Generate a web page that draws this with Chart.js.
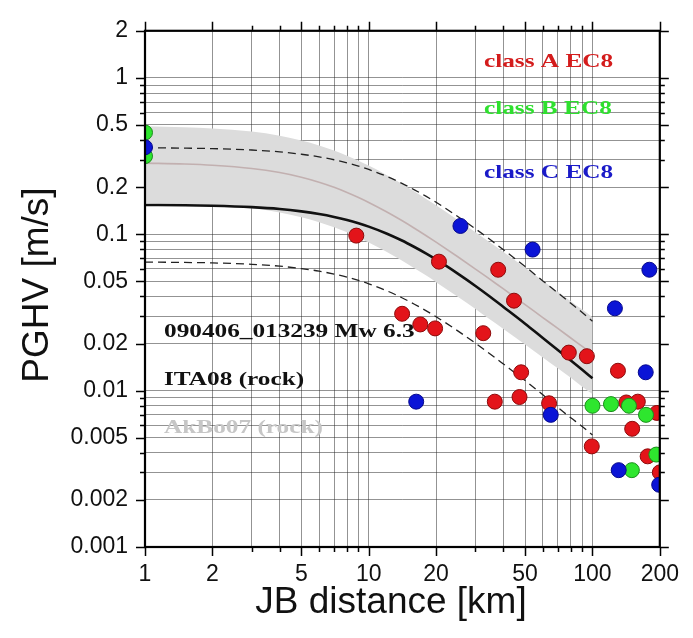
<!DOCTYPE html>
<html>
<head>
<meta charset="utf-8">
<script src="https://cdn.jsdelivr.net/npm/chart.js@4.4.1/dist/chart.umd.min.js"></script>
<style>
  html, body { margin: 0; padding: 0; background: #fff; }
  canvas { display: block; }
</style>
</head>
<body>
<canvas id="pghv-chart" width="693" height="638"></canvas>
<script>
// axis ticks
const xTickLabels = [1, 2, 5, 10, 20, 50, 100, 200];
const yTickLabels = [0.001, 0.002, 0.005, 0.01, 0.02, 0.05, 0.1, 0.2, 0.5, 1, 2];

// prediction curves (km -> m/s)
const curveDist = [1, 1.5, 2, 3, 4, 5, 6, 7, 8, 9, 10, 12, 14, 16, 18, 20, 25, 30, 35, 40, 50, 60, 70, 80, 90, 100];
const ita08Median = [0.154, 0.1532, 0.1521, 0.1490, 0.1450, 0.1400, 0.1347, 0.1291, 0.1234, 0.1176, 0.1119, 0.1012, 0.0915, 0.0829, 0.0755, 0.0690, 0.0560, 0.0467, 0.0397, 0.0343, 0.0268, 0.0217, 0.0182, 0.0156, 0.0136, 0.0120];
const ita08Plus = [0.3573, 0.3554, 0.3529, 0.3457, 0.3364, 0.3248, 0.3125, 0.2995, 0.2863, 0.2728, 0.2596, 0.2348, 0.2123, 0.1923, 0.1752, 0.1601, 0.1299, 0.1083, 0.0921, 0.0796, 0.0622, 0.0503, 0.0422, 0.0362, 0.0316, 0.0278];
const ita08Minus = [0.0664, 0.0660, 0.0656, 0.0642, 0.0625, 0.0603, 0.0581, 0.0556, 0.0532, 0.0507, 0.0482, 0.0436, 0.0394, 0.0357, 0.0325, 0.0297, 0.0241, 0.0201, 0.0171, 0.0148, 0.0116, 0.0094, 0.0078, 0.0067, 0.0059, 0.0052];
const akbo07Median = [0.285, 0.2813, 0.2763, 0.2635, 0.2480, 0.2315, 0.2151, 0.1995, 0.1850, 0.1717, 0.1597, 0.1393, 0.1228, 0.1093, 0.0982, 0.0890, 0.0718, 0.0599, 0.0512, 0.0447, 0.0355, 0.0293, 0.0250, 0.0217, 0.0192, 0.0172];
const akbo07Plus = [0.4902, 0.4838, 0.4752, 0.4532, 0.4266, 0.3982, 0.3700, 0.3431, 0.3182, 0.2953, 0.2747, 0.2396, 0.2112, 0.1880, 0.1689, 0.1531, 0.1235, 0.1030, 0.0881, 0.0769, 0.0611, 0.0504, 0.0429, 0.0373, 0.0330, 0.0295];
const akbo07Minus = [0.1583, 0.1563, 0.1535, 0.1464, 0.1378, 0.1286, 0.1195, 0.1108, 0.1028, 0.0954, 0.0887, 0.0774, 0.0682, 0.0607, 0.0546, 0.0494, 0.0399, 0.0333, 0.0284, 0.0248, 0.0197, 0.0163, 0.0139, 0.0121, 0.0106, 0.0095];

// recorded stations by EC8 class
const classADist = [8.8, 20.6, 37.9, 14.1, 17.0, 19.8, 32.5, 44.6, 78.4, 94.4, 48.0, 130, 36.6, 47.2, 64, 141.6, 159.5, 194, 150.5, 99.3, 176.5, 200];
const classAPghv = [0.098, 0.0668, 0.0593, 0.031, 0.0265, 0.025, 0.0233, 0.0376, 0.0175, 0.0166, 0.0131, 0.0134, 0.0085, 0.0091, 0.0083, 0.0084, 0.0085, 0.0072, 0.0057, 0.0044, 0.0038, 0.0030];
const classBDist = [1, 1, 100, 121, 145.6, 173.5, 193, 150];
const classBPghv = [0.447, 0.316, 0.0080, 0.0082, 0.0080, 0.0070, 0.0039, 0.0031];
const classCDist = [1, 25.7, 54, 179.6, 126, 173, 16.3, 65.1, 131, 198.7];
const classCPghv = [0.36, 0.113, 0.0798, 0.0593, 0.0336, 0.0131, 0.0085, 0.0070, 0.0031, 0.0025];

const toPoints = (xs, ys) => xs.map((x, i) => ({ x, y: ys[i] }));

// gridlines at 1..9 of each decade
const logGrid = (min, max) => {
  const out = [];
  for (let k = Math.floor(Math.log10(min)); k <= Math.ceil(Math.log10(max)); k++) {
    for (let m = 1; m <= 9; m++) {
      const v = Number((m * Math.pow(10, k)).toPrecision(6));
      if (v >= min && v <= max) out.push(v);
    }
  }
  return out;
};
const xGrid = logGrid(1, 200);
const yGrid = logGrid(0.001, 2);

const isLabel = (list, v) => list.some((l) => Math.abs(Math.log10(l) - Math.log10(v)) < 1e-6);
const labelFor = (list, v) => {
  const hit = list.find((l) => isLabel([l], v));
  return hit === undefined ? '' : String(hit);
};

const curve = (data, color, width, dash, extra) => Object.assign({
  type: 'scatter',
  data: toPoints(curveDist, data),
  showLine: true,
  borderColor: color,
  borderWidth: width,
  borderDash: dash,
  pointRadius: 0,
  fill: false,
  cubicInterpolationMode: 'monotone',
}, extra);

const stations = (xs, ys, fill, edge, order) => ({
  type: 'scatter',
  data: toPoints(xs, ys),
  pointRadius: 7.5,
  pointBackgroundColor: fill,
  pointBorderColor: edge,
  pointBorderWidth: 1,
  showLine: false,
  clip: 0,
  order,
});

const serif = 'bold 19px "Liberation Serif", "Times New Roman", serif';
const sans = '"Liberation Sans", Arial, sans-serif';

const stretchText = (ctx, text, x, y, color) => {
  ctx.save();
  ctx.translate(x, y);
  ctx.scale(1.33, 1);
  ctx.font = serif;
  ctx.fillStyle = color;
  ctx.textBaseline = 'alphabetic';
  ctx.fillText(text, 0, 0);
  ctx.restore();
};

const framePlugin = {
  id: 'frame',
  afterDatasetsDraw(chart) {
    const { ctx, chartArea: a, scales } = chart;
    ctx.save();
    ctx.strokeStyle = '#000';
    ctx.lineWidth = 1.5;
    ctx.beginPath();
    xGrid.forEach((v) => {
      const px = Math.round(scales.x.getPixelForValue(v)) + 0.5;
      const len = isLabel(xTickLabels, v) ? 9 : 5;
      ctx.moveTo(px, a.bottom); ctx.lineTo(px, a.bottom + len);
      ctx.moveTo(px, a.top); ctx.lineTo(px, a.top - len);
    });
    yGrid.forEach((v) => {
      const py = Math.round(scales.y.getPixelForValue(v)) + 0.5;
      const len = isLabel(yTickLabels, v) ? 9 : 5;
      ctx.moveTo(a.left, py); ctx.lineTo(a.left - len, py);
      ctx.moveTo(a.right, py); ctx.lineTo(a.right + len, py);
    });
    ctx.stroke();
    ctx.lineWidth = 2.2;
    ctx.strokeRect(a.left, a.top, a.right - a.left, a.bottom - a.top);
    ctx.restore();
  },
  afterDraw(chart) {
    const { ctx } = chart;
    stretchText(ctx, 'class A EC8', 484, 67, '#d41c1c');
    stretchText(ctx, 'class B EC8', 484, 114, '#2ee02e');
    stretchText(ctx, 'class C EC8', 484, 178, '#1a1ac8');
    stretchText(ctx, '090406_013239 Mw 6.3', 164, 337, '#111');
    stretchText(ctx, 'ITA08 (rock)', 164, 385, '#111');
    stretchText(ctx, 'AkBo07 (rock)', 164, 433, '#c6c6c6');

    ctx.save();
    ctx.fillStyle = '#111';
    ctx.font = '37px ' + sans;
    ctx.textAlign = 'center';
    ctx.textBaseline = 'middle';
    ctx.fillText('JB distance [km]', 391, 603);
    ctx.translate(38, 285);
    ctx.rotate(-Math.PI / 2);
    ctx.fillText('PGHV [m/s]', 0, 0);
    ctx.restore();
  },
};

new Chart(document.getElementById('pghv-chart'), {
  type: 'scatter',
  data: {
    datasets: [
      stations(classCDist, classCPghv, '#0b14d6', '#06088c', 0),
      stations(classBDist, classBPghv, '#2ee62e', '#1a8f1a', 1),
      stations(classADist, classAPghv, '#e3141a', '#8c0a0a', 2),
      curve(ita08Median, '#111', 2.6, [], { order: 3 }),
      curve(ita08Plus, '#222', 1.3, [8, 5], { order: 4 }),
      curve(ita08Minus, '#222', 1.3, [8, 5], { order: 4 }),
      curve(akbo07Median, '#c2b0b0', 1.6, [], { order: 5 }),
      curve(akbo07Plus, 'rgba(0,0,0,0)', 0, [], { order: 6, fill: '+1', backgroundColor: '#dcdcdc' }),
      curve(akbo07Minus, 'rgba(0,0,0,0)', 0, [], { order: 7 }),
    ],
  },
  options: {
    responsive: false,
    animation: false,
    events: [],
    layout: { padding: { left: 0, right: 25, top: 19, bottom: 0 } },
    plugins: {
      legend: { display: false },
      tooltip: { enabled: false },
    },
    scales: {
      x: {
        type: 'logarithmic',
        min: 1,
        max: 200,
        afterBuildTicks: (scale) => { scale.ticks = xGrid.map((v) => ({ value: v })); },
        afterFit: (scale) => { scale.height = 91; },
        grid: { color: 'rgba(40,40,40,0.5)', lineWidth: 1, drawTicks: false },
        border: { display: false },
        ticks: {
          autoSkip: false,
          maxRotation: 0,
          padding: 14,
          color: '#111',
          font: { family: sans, size: 23 },
          callback: (v) => labelFor(xTickLabels, v),
        },
      },
      y: {
        type: 'logarithmic',
        min: 0.001,
        max: 2,
        afterBuildTicks: (scale) => { scale.ticks = yGrid.map((v) => ({ value: v })); },
        afterFit: (scale) => { scale.width = 145; },
        grid: { color: 'rgba(40,40,40,0.5)', lineWidth: 1, drawTicks: false },
        border: { display: false },
        ticks: {
          autoSkip: false,
          padding: 17,
          color: '#111',
          font: { family: sans, size: 23 },
          callback: (v) => labelFor(yTickLabels, v),
        },
      },
    },
  },
  plugins: [framePlugin],
});
</script>
</body>
</html>
